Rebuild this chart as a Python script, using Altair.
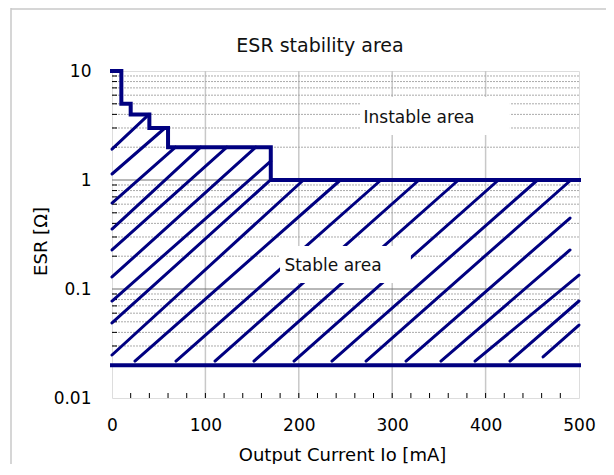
import altair as alt
import pandas as pd

FONT = "DejaVu Sans"
NAVY = "#000080"

# ---- data ----
# upper boundary (step-after), ESR [ohm] vs output current [mA]
step_x = [0, 10, 20, 40, 60, 170, 500]
step_esr = [10, 5, 4, 3, 2, 1, 1]
# lower boundary
floor_x = [0, 500]
floor_esr = [0.02, 0.02]

# hatch segments: start (x1, y1) -> end (x2, y2)
hatch_x1 = [0, 0, 0, 0, 0, 0, 0, 0, 0,
            24.6, 68.5, 110.3, 152, 194.9, 235.5, 272, 314.8, 352.2, 388.7, 426.1, 461.5]
hatch_y1 = [1.92, 1.135, 0.615, 0.355, 0.228, 0.129, 0.0776, 0.0488, 0.0248,
            0.0218, 0.0218, 0.0218, 0.0218, 0.0218, 0.0218, 0.0218, 0.0218, 0.0218, 0.0218, 0.0218, 0.0238]
hatch_x2 = [39.6, 56.7, 68, 95, 123, 154, 170, 168, 205,
            244.6, 288, 328.7, 371, 413.8, 455.6, 491.4, 490.4, 490.4, 500, 500, 500]
hatch_y2 = [4, 3, 2, 2, 2, 2, 1.49, 0.97, 1,
            1, 1, 1, 1, 1, 1, 1, 0.448, 0.228, 0.134, 0.0776, 0.0467]

# annotations
title_text = "ESR stability area"
ann_text = ["Instable area", "Stable area"]
ann_x = [328.7, 236.6]
ann_y = [3.7, 0.1637]
box_x0 = [265.5, 179.9]
box_x1 = [426, 320]
box_y0 = [2.59, 0.1135]
box_y1 = [5.77, 0.248]

# axis / grid values
x_labels = [0, 100, 200, 300, 400, 500]
x_grid = [100, 200, 300, 400]
x_minor = [20, 40, 60, 80, 100, 120, 140, 160, 180, 200, 220, 240, 260, 280, 300,
           320, 340, 360, 380, 400, 420, 440, 460, 480]
y_labels = [0.01, 0.1, 1, 10]
y_major_grid = [0.1, 1]
y_minor = [0.02, 0.03, 0.04, 0.05, 0.06, 0.07, 0.08, 0.09,
           0.2, 0.3, 0.4, 0.5, 0.6, 0.7, 0.8, 0.9,
           2, 3, 4, 5, 6, 7, 8, 9]

W, H = 467, 327

xscale = alt.Scale(domain=[0, 500], nice=False, zero=False)
yscale = alt.Scale(type="log", domain=[0.01, 10], nice=False)
xaxis = alt.Axis(values=x_labels, title="Output Current Io [mA]", grid=False, ticks=False,
                 tickSize=0, domain=False, labelFontSize=17, labelFont=FONT, labelColor="black",
                 labelPadding=19, titleFontSize=18, titleFont=FONT, titleFontWeight="normal",
                 titleColor="black", titleX=230, titleY=57, titleBaseline="middle",
                 labelFlush=False)
yaxis = alt.Axis(values=y_labels, format="~g", title="ESR [Ω]", grid=False, ticks=False,
                 tickSize=0, domain=False, labelFontSize=17, labelFont=FONT, labelColor="black",
                 labelPadding=21, titleFontSize=18, titleFont=FONT, titleFontWeight="normal",
                 titleColor="black", titleX=-71, titleY=170, titleBaseline="middle",
                 labelFlush=False)


def X(f):
    return alt.X(f, type="quantitative", scale=xscale, axis=xaxis)


def Y(f):
    return alt.Y(f, type="quantitative", scale=yscale, axis=yaxis)


steps_df = pd.DataFrame({"x": step_x, "esr": step_esr, "s": "upper"})
floor_df = pd.DataFrame({"x": floor_x, "esr": floor_esr, "s": "lower"})
hatch_df = pd.DataFrame({"x1": hatch_x1, "y1": hatch_y1, "x2": hatch_x2, "y2": hatch_y2})
ann_df = pd.DataFrame({"t": ann_text, "x": ann_x, "y": ann_y,
                       "bx0": box_x0, "bx1": box_x1, "by0": box_y0, "by1": box_y1})

minor_grid = alt.Chart(pd.DataFrame({"v": y_minor})).mark_rule(
    color="#aaaaaa", strokeWidth=1, strokeDash=[2, 1]).encode(y=Y("v"))
major_grid = alt.Chart(pd.DataFrame({"v": y_major_grid})).mark_rule(
    color="#707070", strokeWidth=1).encode(y=Y("v"))
vgrid = alt.Chart(pd.DataFrame({"v": x_grid})).mark_rule(
    color="#c8c8c8", strokeWidth=1.5).encode(x=X("v"))
yticks = alt.Chart(pd.DataFrame({"v": y_minor})).mark_rule(
    color="black", strokeWidth=1).encode(y=Y("v"), x=alt.value(0), x2=alt.value(5))
xticks = alt.Chart(pd.DataFrame({"v": x_minor})).mark_rule(
    color="black", strokeWidth=1).encode(x=X("v"), y=alt.value(H), y2=alt.value(H - 5))

hatch = alt.Chart(hatch_df).mark_rule(color=NAVY, strokeWidth=3, strokeCap="round").encode(
    x=X("x1"), y=Y("y1"), x2="x2", y2="y2")

boxes = alt.Chart(ann_df).mark_rect(fill="white", stroke=None).encode(
    x=X("bx0"), x2="bx1", y=Y("by0"), y2="by1")
labels = alt.Chart(ann_df).mark_text(font=FONT, fontSize=17, color="#111111",
                                     align="center", baseline="middle").encode(
    x=X("x"), y=Y("y"), text="t:N")

upper = alt.Chart(steps_df).mark_line(color=NAVY, strokeWidth=4, interpolate="step-after",
                                      strokeJoin="miter", strokeCap="square").encode(
    x=X("x"), y=Y("esr"))
lower = alt.Chart(floor_df).mark_line(color=NAVY, strokeWidth=4, strokeCap="square").encode(
    x=X("x"), y=Y("esr"))

title = alt.Chart(alt.Data(values=[{"t": title_text}])).mark_text(
    font=FONT, fontSize=19, color="#111111", align="center", baseline="middle").encode(
    text="t:N", x=alt.value(208), y=alt.value(-25))

frame_left = alt.Chart(alt.Data(values=[{}])).mark_rule(color="#c8c8c8", strokeWidth=1.5).encode(
    x=alt.value(-101), y=alt.value(-63), y2=alt.value(H + 80))
frame_top = alt.Chart(alt.Data(values=[{}])).mark_rule(color="#c8c8c8", strokeWidth=1.5).encode(
    y=alt.value(-62), x=alt.value(-101), x2=alt.value(W + 40))

chart = alt.layer(
    frame_left, frame_top, vgrid, minor_grid, major_grid, yticks, xticks,
    hatch, boxes, labels, upper, lower, title
).properties(
    width=W, height=H,
    autosize=alt.AutoSizeParams(type="none"),
    padding={"left": 104, "top": 63, "right": 27, "bottom": 66},
).configure_view(stroke="black", strokeWidth=2).configure(background="white")

chart.save("out.html", embed_options={"renderer": "svg", "actions": False})
